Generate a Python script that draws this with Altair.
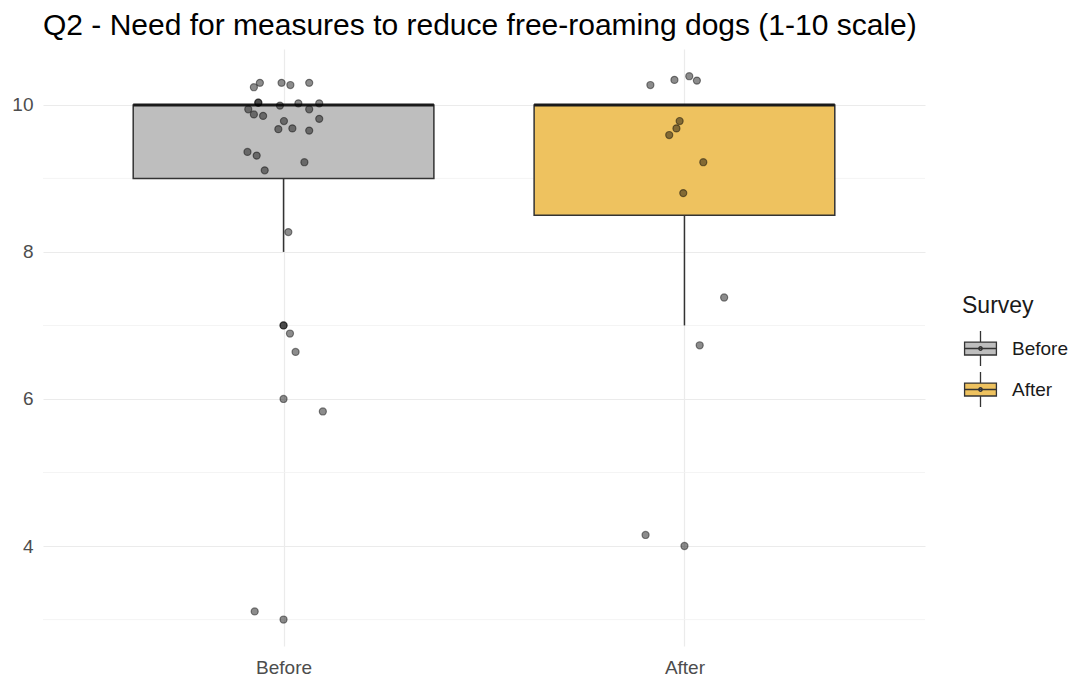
import json
import altair as alt
import pandas as pd

# ---- data ----
categories = ["Before", "After"]
box_q1 = [9.0, 8.5]
box_median = [10.0, 10.0]
box_q3 = [10.0, 10.0]
whisker_low = [8.0, 7.0]
whisker_high = [10.0, 10.0]
box_colors = ["#BEBEBE", "#EEC25F"]

before_jitter = [-0.074, -0.059, -0.005, 0.017, 0.064,
                 -0.063, -0.063, -0.009, 0.037, 0.089,
                 -0.088, -0.074, -0.051, 0.064,
                 0.001, 0.089, -0.013, 0.022, 0.064,
                 -0.090, -0.067, 0.052, -0.047,
                 0.012,
                 0.0, 0.0, 0.016, 0.030, 0.0, 0.098, -0.072, 0.0]
before_values = [10.24, 10.30, 10.30, 10.27, 10.30,
                 10.03, 10.03, 9.99, 10.02, 10.02,
                 9.94, 9.87, 9.85, 9.94,
                 9.78, 9.81, 9.67, 9.68, 9.65,
                 9.36, 9.31, 9.22, 9.11,
                 8.27,
                 7.0, 7.0, 6.89, 6.64, 6.0, 5.83, 3.11, 3.0]

after_jitter = [-0.085, -0.025, 0.012, 0.031, -0.012, -0.020, -0.038,
                0.047, -0.003, 0.099, 0.038, -0.097, 0.0]
after_values = [10.27, 10.34, 10.39, 10.33, 9.78, 9.68, 9.59,
                9.22, 8.80, 7.38, 6.73, 4.15, 4.0]

major_breaks = [4, 6, 8, 10]
minor_breaks = [3, 5, 7, 9]
title_text = "Q2 - Need for measures to reduce free-roaming dogs (1-10 scale)"

# ---- tables ----
half_width = 0.375
positions = [i + 1 for i in range(len(categories))]
box_df = pd.DataFrame({
    "Survey": categories,
    "pos": positions,
    "left": [p - half_width for p in positions],
    "right": [p + half_width for p in positions],
    "q1": box_q1,
    "median": box_median,
    "q3": box_q3,
    "lo": whisker_low,
    "hi": whisker_high,
})

pts_df = pd.DataFrame({
    "Survey": ["Before"] * len(before_values) + ["After"] * len(after_values),
    "x": [1 + j for j in before_jitter] + [2 + j for j in after_jitter],
    "value": before_values + after_values,
})
minor_df = pd.DataFrame({"minor": minor_breaks})

FONT = "Liberation Sans"
x_scale = alt.Scale(domain=[0.4, 2.6], nice=False, zero=False)
y_scale = alt.Scale(domain=[2.64, 10.76], nice=False, zero=False)

x_axis = alt.Axis(values=positions, labelExpr=f"{json.dumps(categories)}[datum.value - 1]",
                  title=None, grid=True, gridColor="#EBEBEB", gridWidth=1.2,
                  domain=False, ticks=False, tickSize=0, labelFontSize=19,
                  labelColor="#4D4D4D", labelPadding=12, labelFont=FONT)
y_axis = alt.Axis(values=major_breaks, title=None, grid=True, gridColor="#EBEBEB",
                  gridWidth=1.2, domain=False, ticks=False, tickSize=0,
                  labelFontSize=19, labelColor="#4D4D4D", labelPadding=10,
                  labelFont=FONT)

minor = alt.Chart(minor_df).mark_rule(color="#F1F1F1", strokeWidth=0.8).encode(
    y=alt.Y("minor:Q", scale=y_scale, axis=y_axis)
)

whisk_lo = alt.Chart(box_df).mark_rule(color="#333333", strokeWidth=1.5).encode(
    x=alt.X("pos:Q", scale=x_scale, axis=x_axis),
    y=alt.Y("q1:Q", scale=y_scale, axis=y_axis),
    y2="lo:Q",
)
whisk_hi = alt.Chart(box_df).mark_rule(color="#333333", strokeWidth=1.5).encode(
    x=alt.X("pos:Q", scale=x_scale, axis=x_axis),
    y=alt.Y("q3:Q", scale=y_scale, axis=y_axis),
    y2="hi:Q",
)

legend_path = ("M-0.91,-0.37H0.91V0.37H-0.91Z M0,-1V-0.37 M0,0.37V1 M-0.91,0H0.91 "
               "M-0.1,0A0.1,0.1 0 1 0 0.1,0A0.1,0.1 0 1 0 -0.1,0Z")

boxes = alt.Chart(box_df).mark_rect(stroke="#333333", strokeWidth=1.5, opacity=1).encode(
    x=alt.X("left:Q", scale=x_scale, axis=x_axis),
    x2="right:Q",
    y=alt.Y("q1:Q", scale=y_scale, axis=y_axis),
    y2="q3:Q",
    color=alt.Color("Survey:N", scale=alt.Scale(domain=categories, range=box_colors),
                    legend=alt.Legend(
                        title="Survey", orient="none", legendX=919, legendY=246,
                        symbolType=legend_path, symbolSize=1225,
                        symbolStrokeColor="#333333", symbolStrokeWidth=1.3,
                        symbolOpacity=1, labelFontSize=19, labelColor="#1A1A1A",
                        labelFont=FONT, labelOffset=13, titleFontSize=23,
                        titleFontWeight="normal", titleColor="#1A1A1A",
                        titleFont=FONT, titlePadding=12, rowPadding=0, padding=0,
                    )),
)

medians = alt.Chart(box_df).mark_rule(color="#1A1A1A", strokeWidth=3).encode(
    x=alt.X("left:Q", scale=x_scale, axis=x_axis),
    x2="right:Q",
    y=alt.Y("median:Q", scale=y_scale, axis=y_axis),
)

points = alt.Chart(pts_df).mark_circle(
    size=50, fill="#000000", fillOpacity=0.45, stroke="#000000",
    strokeOpacity=0.45, strokeWidth=1.2,
).encode(
    x=alt.X("x:Q", scale=x_scale, axis=x_axis),
    y=alt.Y("value:Q", scale=y_scale, axis=y_axis),
)

chart = alt.layer(minor, whisk_lo, whisk_hi, boxes, medians, points).properties(
    width=882,
    height=597,
    autosize=alt.AutoSizeParams(type="none"),
    padding={"left": 35, "top": 41, "right": 144, "bottom": 30},
    background="white",
    title=alt.TitleParams(title_text, anchor="start", frame="group", fontSize=30,
                          font=FONT, fontWeight="normal", color="#000000",
                          baseline="alphabetic", offset=16, dy=32),
).configure_view(stroke=None)

chart.save("out.html", embed_options={"renderer": "svg", "actions": False})
